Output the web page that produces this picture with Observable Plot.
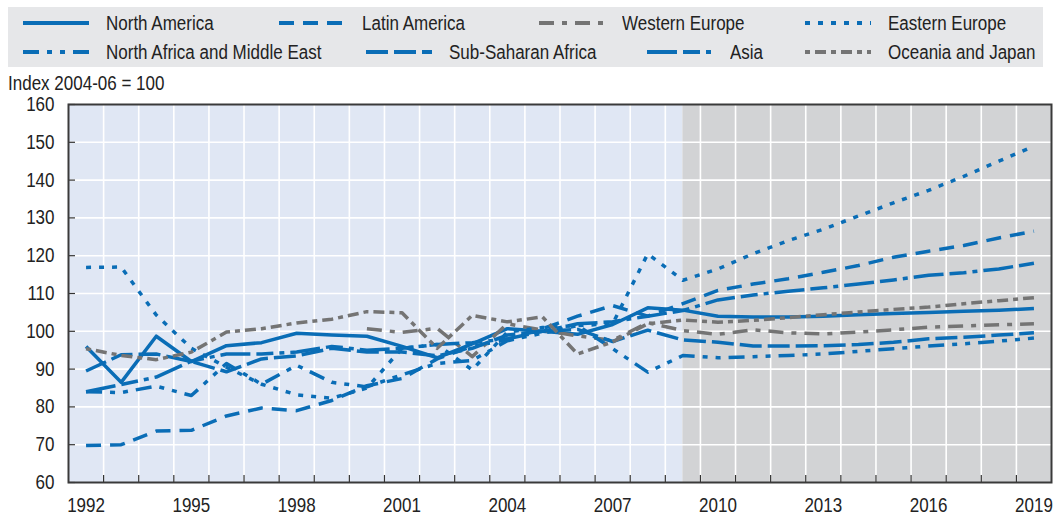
<!DOCTYPE html>
<html>
<head>
<meta charset="utf-8">
<script src="https://cdn.jsdelivr.net/npm/d3@7"></script>
<script src="https://cdn.jsdelivr.net/npm/@observablehq/plot@0.6"></script>
<style>
  body { margin: 0; background: #fff; }
  #wrap { position: relative; width: 1057px; height: 517px; font-family: "Liberation Sans", Arial, sans-serif; color: #222; }
  #legend { position: absolute; left: 8px; top: 7px; width: 1035px; height: 60px; background: #e6e7e9; }
  .item { position: absolute; display: flex; align-items: center; height: 24px; white-space: nowrap; }
  .item svg { margin-right: 17px; flex: none; }
  .narrow { display: inline-block; font-size: 20px; line-height: 24px; transform: scaleX(0.85); transform-origin: 0 50%; }
  #ylabel { position: absolute; left: 8px; top: 74px; line-height: 18px; }
  #ylabel .narrow { line-height: 18px; }
  #chart { position: absolute; left: 0; top: 0; }
</style>
</head>
<body>
<div id="wrap">
  <div id="chart"></div>
  <div id="legend"></div>
  <div id="ylabel"></div>
</div>
<script>
// ---- data ----
const years = [1992,1993,1994,1995,1996,1997,1998,1999,2000,2001,2002,2003,2004,2005,2006,2007,2008,2009,2010,2011,2012,2013,2014,2015,2016,2017,2018,2019];
const xTickYears = [1992,1995,1998,2001,2004,2007,2010,2013,2016,2019];
const yTicks = [60,70,80,90,100,110,120,130,140,150,160];
const projectionStart = 2009;
const yLabel = "Index 2004-06 = 100";

const northAmerica  = [96,86.5,98.7,92,96.2,97,99.5,99,98.7,96,93,96.7,100.7,100,99.2,101.8,106.2,105.6,104,103.8,103.8,104,104.4,104.7,105,105.3,105.6,106];
const latinAmerica  = [69.8,70,73.6,73.8,77.6,79.7,79,81.7,85.6,87.5,92.7,96,97.8,100.7,104,106.8,104,107.3,110.8,112.5,113.9,115.6,117.4,119.6,121.2,122.7,124.7,126.5];
const westernEurope = [null,null,null,null,null,null,null,null,100.7,99.7,100.8,93.3,102,100.3,98.8,97.6,102.3,100.2,99.2,100.4,99.6,99.3,99.8,100.4,101.1,101.4,101.7,102];
const easternEurope = [116.9,117,104.3,95.5,90.5,86,83.2,82.3,85,95.5,96.5,89.8,99.8,101,101.5,102,120.5,113.5,116.5,120.5,124,127,130.5,134,137.3,141,145,149];
const northAfrica   = [84,83.8,85.5,83,91.5,86,91,86.5,85.3,88.5,91.5,92.3,97.5,99.5,101.5,95.4,89.2,93.6,93,93.3,93.6,94,94.7,95.4,96.1,96.7,97.4,98.2];
const subSaharan    = [89.5,93.8,94,92,89.3,92.7,93.5,95.5,94.5,94.5,93.5,95.5,99,100,100.5,97.3,100.3,97.7,97.1,96.1,96.1,96.2,96.5,97.1,98,98.4,99,99.6];
const asia          = [84,85.9,87.9,92.1,94,94,94.5,96,95,95.5,96.5,97,98,100,102,102.5,104,105.5,108.3,109.6,110.6,111.5,112.5,113.6,114.8,115.5,116.5,118];
const oceaniaJapan  = [95.4,93.6,92.5,94.5,99.8,100.7,102.2,103.2,105.2,104.9,95.5,104.2,102.5,103.8,94,97.2,102,103,102.4,102.9,103.6,104.4,105.1,105.8,106.4,107.3,108.1,108.9];

const seriesNames = ["North America","Latin America","Western Europe","Eastern Europe","North Africa and Middle East","Sub-Saharan Africa","Asia","Oceania and Japan"];
const seriesValues = [northAmerica, latinAmerica, westernEurope, easternEurope, northAfrica, subSaharan, asia, oceaniaJapan];

// ---- styles ----
const BLUE = "#0a6db6", GREY = "#747474";
const seriesColors = [BLUE, BLUE, GREY, BLUE, BLUE, BLUE, BLUE, GREY];
const seriesDash = [null, "15,9", "15,8,5,8", "5,8", "16,8,5,8,5,8", "22,6", "30,6,17,6,5,6", "5,5,11,5,5,5,11,5"];
const legendPos = [[23,11],[279,11],[539,11],[805,11],[23,40],[366,40],[647,40],[805,40]];
const NARROW = 0.85;

// ---- legend ----
const legend = document.getElementById("legend");
seriesNames.forEach((name, i) => {
  const item = document.createElement("div");
  item.className = "item";
  item.style.left = (legendPos[i][0] - 8) + "px";
  item.style.top = (legendPos[i][1] - 7) + "px";
  const dash = seriesDash[i] ? `stroke-dasharray="${seriesDash[i]}"` : "";
  item.innerHTML = `<svg width="66" height="8"><line x1="0" x2="66" y1="4" y2="4" stroke="${seriesColors[i]}" stroke-width="4" ${dash}/></svg><span class="narrow">${name}</span>`;
  legend.appendChild(item);
});
document.getElementById("ylabel").innerHTML = `<span class="narrow">${yLabel}</span>`;

// ---- chart ----
const xDomain = [years[0] - 0.5, years[years.length - 1] + 0.5];
const yDomain = [yTicks[0], yTicks[yTicks.length - 1]];
const boundaries = years.slice(0, -1).map(y => y + 0.5);
const W = 1057, H = 517, mT = 104, mB = 35, mL = 68, mR = 6;
const periods = [
  {start: xDomain[0], end: projectionStart, fill: "#e0e7f4"},
  {start: projectionStart, end: xDomain[1], fill: "#d2d3d5"}
];

const lineMarks = seriesNames.map((name, i) => {
  const data = years.map((yr, j) => ({year: yr, value: seriesValues[i][j]}));
  return Plot.line(data, {
    x: "year", y: "value",
    stroke: seriesColors[i], strokeWidth: 3.5,
    strokeDasharray: seriesDash[i] || undefined,
    strokeLinecap: "butt", strokeLinejoin: "round"
  });
});

const chart = Plot.plot({
  width: W, height: H,
  marginTop: mT, marginBottom: mB, marginLeft: mL, marginRight: mR,
  x: {domain: xDomain},
  y: {domain: yDomain},
  style: {fontFamily: '"Liberation Sans", Arial, sans-serif', fontSize: "20px", color: "#222", background: "transparent", overflow: "visible"},
  marks: [
    Plot.rect(periods, {x1: "start", x2: "end", y1: yDomain[0], y2: yDomain[1], fill: "fill"}),
    Plot.ruleX(boundaries, {x: d => d, stroke: "#fff", strokeWidth: 1.6}),
    Plot.ruleY(yTicks.slice(1, -1), {y: d => d, stroke: "#fff", strokeWidth: 1.6}),
    ...lineMarks,
    Plot.tickX(boundaries, {x: d => d, stroke: "#333", strokeWidth: 1.2, insetTop: (H - mT - mB) - 7}),
    Plot.tickY(yTicks, {y: d => d, stroke: "#333", strokeWidth: 1.2, insetRight: (W - mL - mR) - 7}),
    Plot.frame({stroke: "#3a3a3a", strokeWidth: 2}),
    Plot.axisY({ticks: yTicks, tickSize: 0, tickPadding: 14, label: null, tickFormat: d => String(d)}),
    Plot.axisX({ticks: xTickYears, tickSize: 0, tickPadding: 15, label: null, tickFormat: d => String(d)})
  ]
});
document.getElementById("chart").appendChild(chart);

// condense axis text horizontally (narrow typeface look)
chart.querySelectorAll("text").forEach(t => {
  const len = t.getComputedTextLength();
  if (len > 0) {
    t.setAttribute("textLength", (len * NARROW).toFixed(2));
    t.setAttribute("lengthAdjust", "spacingAndGlyphs");
  }
});
</script>
</body>
</html>
